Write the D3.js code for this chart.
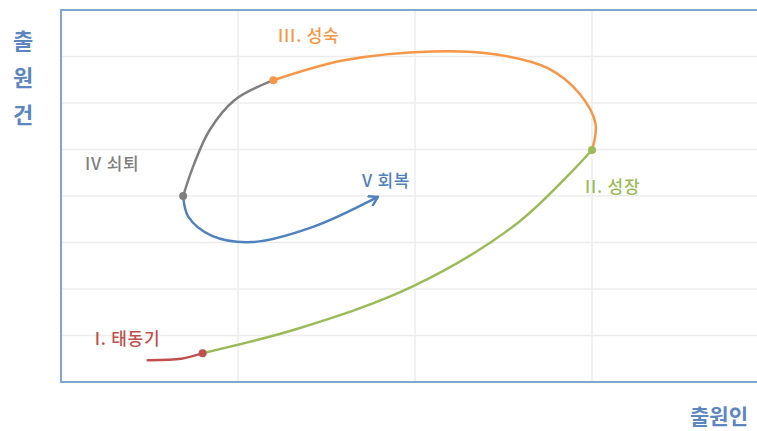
<!DOCTYPE html>
<html>
<head>
<meta charset="utf-8">
<script src="https://cdn.jsdelivr.net/npm/d3@7"></script>
<style>
  body { margin: 0; background: #fff; }
  text { font-family: "Noto Sans CJK KR", "Noto Sans", sans-serif; }
</style>
</head>
<body>
<script>
var width = 757,
    height = 431;

// stage curves, [x, y] in grid units (x 0..4, y 0..8)
var stage1 = [[0.49, 0.47], [0.68, 0.50], [0.80, 0.62]];
var stage2 = [[0.80, 0.62], [1.35, 1.16], [1.99, 2.06], [2.58, 3.42], [3.0, 4.99]];
var stage3 = [[3.0, 4.99], [3.02, 5.55], [2.93, 6.2], [2.75, 6.75], [2.45, 7.05],
              [2.1, 7.11], [1.6, 6.92], [1.20, 6.49]];
var stage4 = [[1.20, 6.49], [0.98, 6.06], [0.84, 5.42], [0.75, 4.67], [0.69, 4.0]];
var stage5 = [[0.69, 4.0], [0.72, 3.55], [0.85, 3.15], [1.08, 3.01], [1.42, 3.33], [1.79, 3.98]];

var stageNames = ["I. 태동기", "II. 성장", "III. 성숙", "IV 쇠퇴", "V 회복"];
var stageColors = ["#c0504d", "#9bbb59", "#f79646", "#7f7f7f", "#4f81bd"];
// label anchor positions in grid units
var labelPos = [[0.19, 0.80], [2.96, 4.06], [1.226, 7.31], [0.136, 4.56], [1.70, 4.19]];

var xTicks = [1, 2, 3];
var yTicks = [1, 2, 3, 4, 5, 6, 7];

var yTitle = ["출", "원", "건"];
var xTitle = "출원인";

var x = d3.scaleLinear().domain([0, 4]).range([61, 769]);
var y = d3.scaleLinear().domain([0, 8]).range([382, 10]);

var svg = d3.select("body").append("svg")
    .attr("width", width)
    .attr("height", height);

svg.append("defs").append("marker")
    .attr("id", "arrow")
    .attr("viewBox", "-10 -6 12 12")
    .attr("refX", 0)
    .attr("refY", 0)
    .attr("markerWidth", 12)
    .attr("markerHeight", 12)
    .attr("markerUnits", "userSpaceOnUse")
    .attr("orient", "auto")
  .append("path")
    .attr("d", "M-8,-5 L0,0 L-8,5")
    .attr("fill", "none")
    .attr("stroke", stageColors[4])
    .attr("stroke-width", 2.5)
    .attr("stroke-linecap", "round")
    .attr("stroke-linejoin", "round");

// grid
svg.append("g").selectAll("line").data(yTicks).join("line")
    .attr("x1", x(0)).attr("x2", width)
    .attr("y1", d => y(d)).attr("y2", d => y(d))
    .attr("stroke", "#ececec").attr("stroke-width", 1.5);

svg.append("g").selectAll("line").data(xTicks).join("line")
    .attr("x1", d => x(d)).attr("x2", d => x(d))
    .attr("y1", y(8)).attr("y2", y(0))
    .attr("stroke", "#ececec").attr("stroke-width", 1.5);

// frame
svg.append("rect")
    .attr("x", x(0))
    .attr("y", y(8))
    .attr("width", x(4) - x(0))
    .attr("height", y(0) - y(8))
    .attr("fill", "none")
    .attr("stroke", "#7fa6cc")
    .attr("stroke-width", 2);

var line = d3.line()
    .x(d => x(d[0]))
    .y(d => y(d[1]))
    .curve(d3.curveCatmullRom.alpha(0.5));

var stages = [stage1, stage2, stage3, stage4, stage5];

svg.append("g").selectAll("path").data(stages).join("path")
    .attr("d", line)
    .attr("fill", "none")
    .attr("stroke", (d, i) => stageColors[i])
    .attr("stroke-width", 2.5)
    .attr("stroke-linecap", "round")
    .attr("marker-end", (d, i) => i == 4 ? "url(#arrow)" : null);

// joint dots at the start of stages 2..5
svg.append("g").selectAll("circle").data(stages.slice(1)).join("circle")
    .attr("cx", d => x(d[0][0]))
    .attr("cy", d => y(d[0][1]))
    .attr("r", 4)
    .attr("fill", (d, i) => stageColors[i]);

svg.append("g").selectAll("text").data(stageNames).join("text")
    .attr("x", (d, i) => x(labelPos[i][0]))
    .attr("y", (d, i) => y(labelPos[i][1]))
    .attr("fill", (d, i) => stageColors[i])
    .attr("font-size", 17)
    .attr("font-weight", 500)
    .attr("letter-spacing", 0.8)
    .text(d => d);

// axis titles
svg.append("g").selectAll("text").data(yTitle).join("text")
    .attr("x", 23)
    .attr("y", (d, i) => 49 + i * 37)
    .attr("text-anchor", "middle")
    .attr("fill", "#5b86bf")
    .attr("font-size", 22)
    .attr("font-weight", "bold")
    .text(d => d);

svg.append("text")
    .attr("x", 748)
    .attr("y", 424)
    .attr("text-anchor", "end")
    .attr("fill", "#5b86bf")
    .attr("font-size", 21)
    .attr("font-weight", "bold")
    .text(xTitle);
</script>
</body>
</html>
